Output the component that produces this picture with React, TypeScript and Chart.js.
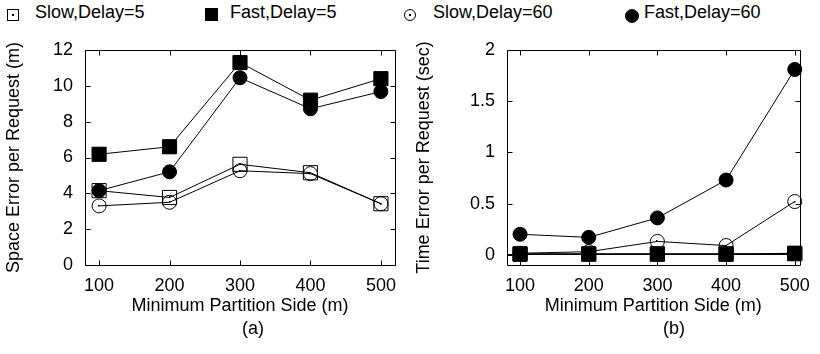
import React, { useEffect, useRef } from "react";
import { Chart, registerables } from "chart.js";
Chart.register(...registerables);

// ---- data ----
const partitionSides = [100, 200, 300, 400, 500];
const seriesNames = ["Slow,Delay=5", "Fast,Delay=5", "Slow,Delay=60", "Fast,Delay=60"];

const spaceSlow5 = [4.15, 3.77, 5.62, 5.15, 3.42];
const spaceFast5 = [6.18, 6.6, 11.3, 9.2, 10.4];
const spaceSlow60 = [3.3, 3.5, 5.26, 5.1, 3.42];
const spaceFast60 = [4.15, 5.2, 10.45, 8.72, 9.68];

const timeSlow5 = [0.01, 0.01, 0.01, 0.01, 0.01];
const timeFast5 = [0.005, 0.005, 0.005, 0.005, 0.015];
const timeSlow60 = [0.015, 0.03, 0.13, 0.09, 0.52];
const timeFast60 = [0.2, 0.17, 0.36, 0.73, 1.81];

const spaceTicks = [0, 2, 4, 6, 8, 10, 12];
const timeTicks = [0, 0.5, 1, 1.5, 2];

// ---- styles ----
const FONT = "'Liberation Sans', Arial, Helvetica, sans-serif";
const pointStyles = ["rect", "rect", "circle", "circle"];
const filled = [false, true, false, true];
const radii = [10, 10, 7, 7];
const drawOrder = [4, 3, 2, 1];

Chart.defaults.font.family = FONT;
Chart.defaults.font.size = 18;
Chart.defaults.color = "#000";

const framePlugin = {
  id: "frameTicks",
  beforeDatasetsDraw(chart: any) {
    const { ctx, chartArea } = chart;
    const l = Math.round(chartArea.left) + 0.5;
    const r = Math.round(chartArea.right) + 0.5;
    const t = Math.round(chartArea.top) + 0.5;
    const b = Math.round(chartArea.bottom) + 0.5;
    const len = 5;
    ctx.save();
    ctx.strokeStyle = "#000";
    ctx.lineWidth = 1;
    ctx.beginPath();
    ctx.rect(l, t, r - l, b - t);
    const xs = chart.scales.x;
    xs.ticks.forEach((tk: any) => {
      const px = Math.round(xs.getPixelForValue(tk.value)) + 0.5;
      ctx.moveTo(px, b);
      ctx.lineTo(px, b - len);
      ctx.moveTo(px, t);
      ctx.lineTo(px, t + len);
    });
    const ys = chart.scales.y;
    ys.ticks.forEach((tk: any) => {
      const py = Math.round(ys.getPixelForValue(tk.value)) + 0.5;
      ctx.moveTo(l, py);
      ctx.lineTo(l + len, py);
      ctx.moveTo(r, py);
      ctx.lineTo(r - len, py);
    });
    ctx.stroke();
    ctx.restore();
  },
  afterDatasetDraw(chart: any, args: any) {
    const ds = chart.data.datasets[args.index];
    if (!ds.centerDot) return;
    const { ctx } = chart;
    ctx.save();
    ctx.fillStyle = "#000";
    args.meta.data.forEach((el: any) => {
      ctx.fillRect(Math.round(el.x) - 1, Math.round(el.y) - 1, 1.5, 1.5);
    });
    ctx.restore();
  },
};

type PanelProps = {
  left: number;
  values: number[][];
  yTicks: number[];
  yMin: number;
  yMax: number;
  xMin: number;
  xMax: number;
  yTitle: string;
  yAxisWidth: number;
  padRight: number;
  zeroLine: boolean;
};

function Panel(p: PanelProps) {
  const ref = useRef<HTMLCanvasElement>(null);
  useEffect(() => {
    if (!ref.current) return;
    const datasets = p.values.map((v, i) => ({
      label: seriesNames[i],
      data: partitionSides.map((x, j) => ({ x, y: v[j] })),
      borderColor: "#000",
      borderWidth: 1,
      backgroundColor: "#000",
      pointStyle: pointStyles[i],
      pointRadius: radii[i],
      pointBorderWidth: 1,
      pointBorderColor: "#000",
      pointBackgroundColor: filled[i] ? "#000" : "rgba(0,0,0,0)",
      fill: false,
      tension: 0,
      order: drawOrder[i],
      clip: false,
      centerDot: !filled[i],
    }));
    const chart = new Chart(ref.current, {
      type: "line",
      data: { datasets } as any,
      options: {
        animation: false,
        responsive: false,
        devicePixelRatio: 1,
        events: [],
        layout: { padding: { left: 0, top: 50, right: p.padRight, bottom: 0 } },
        plugins: { legend: { display: false }, tooltip: { enabled: false } },
        scales: {
          x: {
            type: "linear",
            min: p.xMin,
            max: p.xMax,
            afterBuildTicks: (s: any) => {
              s.ticks = partitionSides.map((v) => ({ value: v }));
            },
            afterFit: (s: any) => {
              s.height = 89;
            },
            grid: { display: false, drawTicks: false },
            border: { display: false },
            ticks: {
              padding: 10,
              color: "#000",
              font: { size: 18, family: FONT },
              maxRotation: 0,
              autoSkip: false,
              callback: (v: any) => String(v),
            },
            title: {
              display: true,
              text: "Minimum Partition Side (m)",
              color: "#000",
              font: { size: 18, family: FONT },
              padding: { top: 0, bottom: 37 },
            },
          },
          y: {
            type: "linear",
            min: p.yMin,
            max: p.yMax,
            afterBuildTicks: (s: any) => {
              s.ticks = p.yTicks.map((v) => ({ value: v }));
            },
            afterFit: (s: any) => {
              s.width = p.yAxisWidth;
            },
            grid: {
              drawTicks: false,
              lineWidth: 1,
              color: (c: any) =>
                p.zeroLine && c.tick && c.tick.value === 0 ? "#000" : "rgba(0,0,0,0)",
            },
            border: { display: false },
            ticks: {
              padding: 12,
              color: "#000",
              font: { size: 18, family: FONT },
              callback: (v: any) => String(v),
            },
            title: {
              display: true,
              text: p.yTitle,
              color: "#000",
              font: { size: 18, family: FONT },
              padding: { top: 3.5, bottom: 0 },
            },
          },
        },
      } as any,
      plugins: [framePlugin as any],
    });
    return () => chart.destroy();
  }, []);
  return (
    <canvas
      ref={ref}
      width={410}
      height={354}
      style={{ position: "absolute", left: p.left, top: 0, width: 410, height: 354 }}
    />
  );
}

const legendLayout = [
  { mx: 7, my: 9, size: 12, text: 35 },
  { mx: 205, my: 8, size: 13, text: 230 },
  { mx: 404, my: 9, size: 12, text: 433 },
  { mx: 625, my: 9, size: 14, text: 644 },
];

function Legend() {
  return (
    <>
      {seriesNames.map((name, i) => {
        const L = legendLayout[i];
        const round = pointStyles[i] === "circle";
        return (
          <React.Fragment key={name}>
            <div
              style={{
                position: "absolute",
                left: L.mx,
                top: L.my,
                width: L.size,
                height: L.size,
                boxSizing: "border-box",
                border: "1px solid #000",
                borderRadius: round ? "50%" : 0,
                background: filled[i] ? "#000" : "transparent",
              }}
            >
              {!filled[i] && (
                <div
                  style={{
                    position: "absolute",
                    left: L.size / 2 - 1.75,
                    top: L.size / 2 - 1.75,
                    width: 1.5,
                    height: 1.5,
                    background: "#000",
                  }}
                />
              )}
            </div>
            <div
              style={{
                position: "absolute",
                left: L.text,
                top: 3,
                fontSize: 18,
                lineHeight: "18px",
                whiteSpace: "nowrap",
              }}
            >
              {name}
            </div>
          </React.Fragment>
        );
      })}
    </>
  );
}

export default function App() {
  return (
    <div
      style={{
        position: "absolute",
        left: 0,
        top: 0,
        width: 820,
        height: 354,
        background: "#fff",
        fontFamily: FONT,
        color: "#000",
        overflow: "hidden",
      }}
    >
      <Legend />
      <Panel
        left={0}
        values={[spaceSlow5, spaceFast5, spaceSlow60, spaceFast60]}
        yTicks={spaceTicks}
        yMin={0}
        yMax={12}
        xMin={80}
        xMax={520}
        yTitle="Space Error per Request (m)"
        yAxisWidth={85}
        padRight={15}
        zeroLine={false}
      />
      <Panel
        left={410}
        values={[timeSlow5, timeFast5, timeSlow60, timeFast60]}
        yTicks={timeTicks}
        yMin={-0.1}
        yMax={2}
        xMin={81}
        xMax={507}
        yTitle="Time Error per Request (sec)"
        yAxisWidth={97}
        padRight={14}
        zeroLine={true}
      />
      <div
        style={{
          position: "absolute",
          left: 203,
          width: 100,
          top: 319,
          fontSize: 18,
          lineHeight: "18px",
          textAlign: "center",
        }}
      >
        (a)
      </div>
      <div
        style={{
          position: "absolute",
          left: 624,
          width: 100,
          top: 319,
          fontSize: 18,
          lineHeight: "18px",
          textAlign: "center",
        }}
      >
        (b)
      </div>
    </div>
  );
}
